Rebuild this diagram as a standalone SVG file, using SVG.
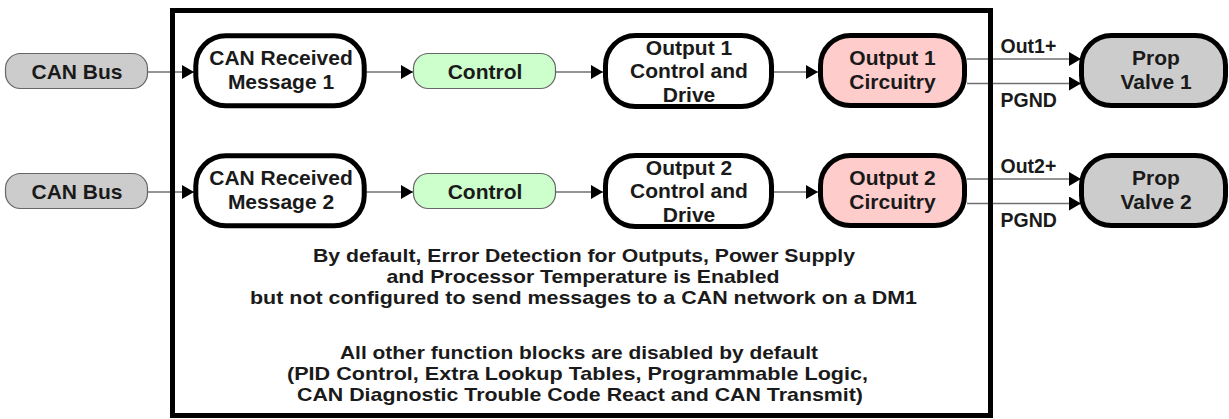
<svg xmlns="http://www.w3.org/2000/svg" width="1229" height="419" viewBox="0 0 1229 419">
<defs>
<marker id="arr" markerUnits="userSpaceOnUse" markerWidth="12" markerHeight="14" refX="12" refY="7" orient="auto">
<path d="M0,0 L12,7 L0,14 Z" fill="#000"/>
</marker>
<style>
text{font-family:"Liberation Sans",Arial,sans-serif;font-weight:bold;fill:#1a1a1a;text-anchor:middle}
.n{font-size:21px}
.lbl{font-size:19.5px;text-anchor:start}
.note{font-size:19px}
.thin{stroke:#666;stroke-width:1.2}
.thick{stroke:#000;stroke-width:5}
.gray{fill:#cccccc}
.green{fill:#ccffcc}
.pink{fill:#ffcccc}
.white{fill:#fff}
.c{stroke:#707070;stroke-width:1.3;fill:none;marker-end:url(#arr)}
</style>
</defs>
<rect width="1229" height="419" fill="#fff"/>
<g id="connectors">
<line class="c" x1="148" y1="72" x2="194" y2="72"/>
<line class="c" x1="366" y1="72" x2="413" y2="72"/>
<line class="c" x1="556" y1="72" x2="603" y2="72"/>
<line class="c" x1="774" y1="72" x2="818" y2="72"/>
<line class="c" x1="967" y1="59" x2="1081" y2="59"/>
<line class="c" x1="967" y1="83.5" x2="1081" y2="83.5"/>
<line class="c" x1="148" y1="192" x2="194" y2="192"/>
<line class="c" x1="366" y1="192" x2="413" y2="192"/>
<line class="c" x1="556" y1="192" x2="603" y2="192"/>
<line class="c" x1="774" y1="192" x2="818" y2="192"/>
<line class="c" x1="967" y1="179" x2="1081" y2="179"/>
<line class="c" x1="967" y1="203.5" x2="1081" y2="203.5"/>
</g>
<g id="frame">
<rect x="172.5" y="10.5" width="818" height="405" fill="none" stroke="#000" stroke-width="5"/>
</g>
<g id="canbus1"><rect class="thin gray" x="5.5" y="53.5" width="142" height="35" rx="15"/><text class="n" x="77" y="79">CAN Bus</text></g>
<g id="canrx1"><rect class="thick white" x="195.8" y="35.8" width="168.4" height="70" rx="30"/><text class="n" x="281" y="65">CAN Received</text><text class="n" x="281" y="88.5">Message 1</text></g>
<g id="control1"><rect class="thin green" x="413.5" y="53.5" width="142" height="35" rx="15"/><text class="n" x="485" y="79">Control</text></g>
<g id="ocd1"><rect class="thick white" x="605.5" y="35.5" width="166" height="71" rx="30"/><text class="n" x="689" y="54.5">Output 1</text><text class="n" x="689" y="78.3">Control and</text><text class="n" x="689" y="102">Drive</text></g>
<g id="circ1"><rect class="thick pink" x="820.5" y="35.5" width="144" height="70" rx="30"/><text class="n" x="892.5" y="65">Output 1</text><text class="n" x="892.5" y="88.5">Circuitry</text></g>
<g id="valve1"><rect class="thick gray" x="1081.5" y="35.5" width="144" height="70" rx="30"/><text class="n" x="1156" y="65">Prop</text><text class="n" x="1156" y="88.5">Valve 1</text></g>
<text class="lbl" x="1000.5" y="53">Out1+</text>
<text class="lbl" x="1000.5" y="106.5">PGND</text>
<g id="canbus2"><rect class="thin gray" x="5.5" y="173.5" width="142" height="35" rx="15"/><text class="n" x="77" y="199">CAN Bus</text></g>
<g id="canrx2"><rect class="thick white" x="195.8" y="155.8" width="168.4" height="70" rx="30"/><text class="n" x="281" y="185">CAN Received</text><text class="n" x="281" y="208.5">Message 2</text></g>
<g id="control2"><rect class="thin green" x="413.5" y="173.5" width="142" height="35" rx="15"/><text class="n" x="485" y="199">Control</text></g>
<g id="ocd2"><rect class="thick white" x="605.5" y="155.5" width="166" height="71" rx="30"/><text class="n" x="689" y="174.5">Output 2</text><text class="n" x="689" y="198.3">Control and</text><text class="n" x="689" y="222">Drive</text></g>
<g id="circ2"><rect class="thick pink" x="820.5" y="155.5" width="144" height="70" rx="30"/><text class="n" x="892.5" y="185">Output 2</text><text class="n" x="892.5" y="208.5">Circuitry</text></g>
<g id="valve2"><rect class="thick gray" x="1081.5" y="155.5" width="144" height="70" rx="30"/><text class="n" x="1156" y="185">Prop</text><text class="n" x="1156" y="208.5">Valve 2</text></g>
<text class="lbl" x="1000.5" y="173">Out2+</text>
<text class="lbl" x="1000.5" y="226.5">PGND</text>
<g id="notes">
<text class="note" x="584" y="262" textLength="542" lengthAdjust="spacingAndGlyphs">By default, Error Detection for Outputs, Power Supply</text>
<text class="note" x="583" y="283" textLength="393" lengthAdjust="spacingAndGlyphs">and Processor Temperature is Enabled</text>
<text class="note" x="583.5" y="304" textLength="667" lengthAdjust="spacingAndGlyphs">but not configured to send messages to a CAN network on a DM1</text>
<text class="note" x="579" y="358.5" textLength="478" lengthAdjust="spacingAndGlyphs">All other function blocks are disabled by default</text>
<text class="note" x="577.5" y="379.5" textLength="581" lengthAdjust="spacingAndGlyphs">(PID Control, Extra Lookup Tables, Programmable Logic,</text>
<text class="note" x="580" y="400.5" textLength="566" lengthAdjust="spacingAndGlyphs">CAN Diagnostic Trouble Code React and CAN Transmit)</text>
</g>
</svg>
